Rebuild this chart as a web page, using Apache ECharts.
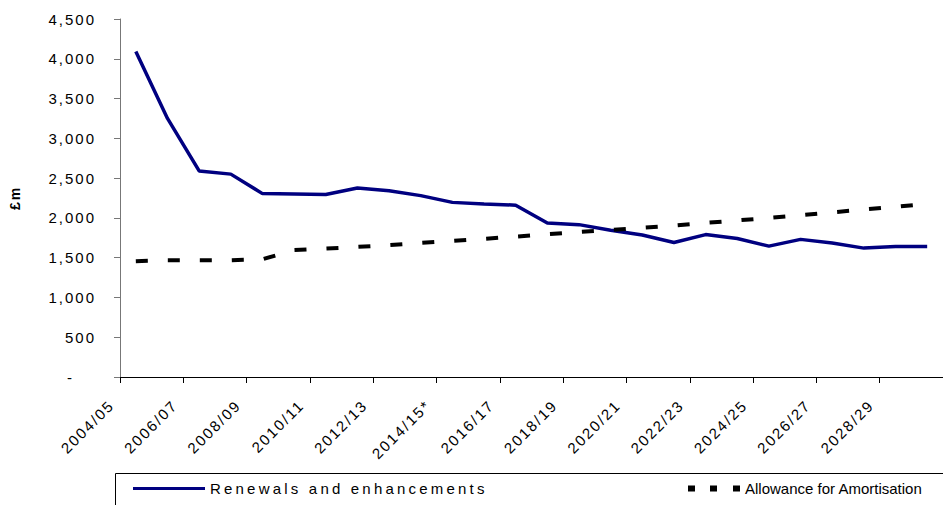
<!DOCTYPE html>
<html>
<head>
<meta charset="utf-8">
<script src="https://cdn.jsdelivr.net/npm/echarts@6/dist/echarts.min.js"></script>
<style>
  html, body { margin: 0; padding: 0; background: #fff; }
  #chart { width: 943px; height: 505px; }
  /* the source chart has loosely spaced lettering */
  #chart text { letter-spacing: 2px; }
</style>
</head>
<body>
<div id="chart"></div>
<script>
// financial years on the x axis
const years = ['2004/05', '2005/06', '2006/07', '2007/08', '2008/09', '2009/10', '2010/11', '2011/12',
  '2012/13', '2013/14', '2014/15*', '2015/16', '2016/17', '2017/18', '2018/19', '2019/20', '2020/21',
  '2021/22', '2022/23', '2023/24', '2024/25', '2025/26', '2026/27', '2027/28', '2028/29', '2029/30'];

// £m
const renewals = [4090, 3250, 2590, 2550, 2305, 2300, 2295, 2375, 2340, 2280, 2195, 2175, 2160,
  1935, 1915, 1845, 1785, 1690, 1790, 1740, 1645, 1730, 1685, 1620, 1640, 1640];
const amortisation = [1455, 1468, 1468, 1468, 1480, 1595, 1615, 1635, 1658, 1685, 1710, 1737, 1765,
  1795, 1823, 1849, 1875, 1902, 1937, 1968, 2000, 2035, 2070, 2105, 2140, 2177];

const yTicks = [0, 500, 1000, 1500, 2000, 2500, 3000, 3500, 4000, 4500];

const chart = echarts.init(document.getElementById('chart'), null, { renderer: 'svg' });

// points sit in the middle of each year slot
const toPoints = arr => arr.map((v, i) => [i + 0.5, v]);

const option = {
  animation: false,
  textStyle: { fontFamily: 'Liberation Sans, Arial, sans-serif', color: '#000' },
  grid: { left: 119, right: -8, top: 19, bottom: 128 },
  xAxis: {
    type: 'value',
    min: 0,
    max: years.length,
    interval: 2,
    axisLine: { show: true, onZero: false, lineStyle: { color: '#000', width: 1 } },
    axisTick: { show: true, length: 6, lineStyle: { color: '#000' } },
    splitLine: { show: false },
    axisLabel: {
      rotate: 45,
      margin: 17,
      padding: [0, 12, 0, 0],
      fontSize: 15,
      color: '#000',
      showMaxLabel: false,
      formatter: v => years[v] || ''
    }
  },
  yAxis: {
    type: 'value',
    min: yTicks[0],
    max: yTicks[yTicks.length - 1],
    interval: 500,
    name: '£m',
    nameLocation: 'middle',
    nameGap: 98,
    nameTextStyle: { fontWeight: 'bold', fontSize: 14, color: '#000' },
    axisLine: { show: true, lineStyle: { color: '#777', width: 1 } },
    axisTick: { show: true, length: 6, lineStyle: { color: '#777' } },
    splitLine: { show: false },
    axisLabel: {
      margin: 24,
      fontSize: 15,
      color: '#000',
      formatter: v => v === 0 ? '{z|-}' : v.toLocaleString('en-GB'),
      rich: { z: { fontSize: 15, padding: [0, 22, 0, 0] } }
    }
  },
  legend: [
    {
      data: [{ name: 'Renewals and enhancements', icon: 'rect' }],
      left: 133,
      top: 481,
      padding: 0,
      itemWidth: 72,
      itemHeight: 3,
      textStyle: { fontSize: 15, color: '#000' }
    },
    {
      data: [{
        name: 'Allowance for Amortisation',
        icon: 'path://M0,0h7v6h-7zM22,0h7v6h-7zM45,0h7v6h-7z'
      }],
      left: 688,
      top: 481,
      padding: 0,
      itemWidth: 52,
      itemHeight: 6,
      textStyle: { fontSize: 15, color: '#000' }
    }
  ],
  graphic: [
    {
      type: 'rect',
      left: 113,
      top: 471,
      shape: { width: 840, height: 40 },
      style: { fill: 'none', stroke: '#000', lineWidth: 1 }
    }
  ],
  series: [
    {
      name: 'Renewals and enhancements',
      type: 'line',
      data: toPoints(renewals),
      showSymbol: false,
      symbol: 'none',
      lineStyle: { color: '#000080', width: 3.5 },
      itemStyle: { color: '#000080' }
    },
    {
      name: 'Allowance for Amortisation',
      type: 'line',
      data: toPoints(amortisation),
      showSymbol: false,
      symbol: 'none',
      lineStyle: { color: '#000', width: 4, type: [12, 20] },
      itemStyle: { color: '#000' }
    }
  ]
};

chart.setOption(option);

// legend captions are spaced differently in the original
function spaceLegend() {
  document.querySelectorAll('#chart text').forEach(t => {
    if (t.textContent === 'Renewals and enhancements') t.style.letterSpacing = '3.2px';
    if (t.textContent === 'Allowance for Amortisation') t.style.letterSpacing = '0px';
  });
}
spaceLegend();
chart.on('finished', spaceLegend);
</script>
</body>
</html>
